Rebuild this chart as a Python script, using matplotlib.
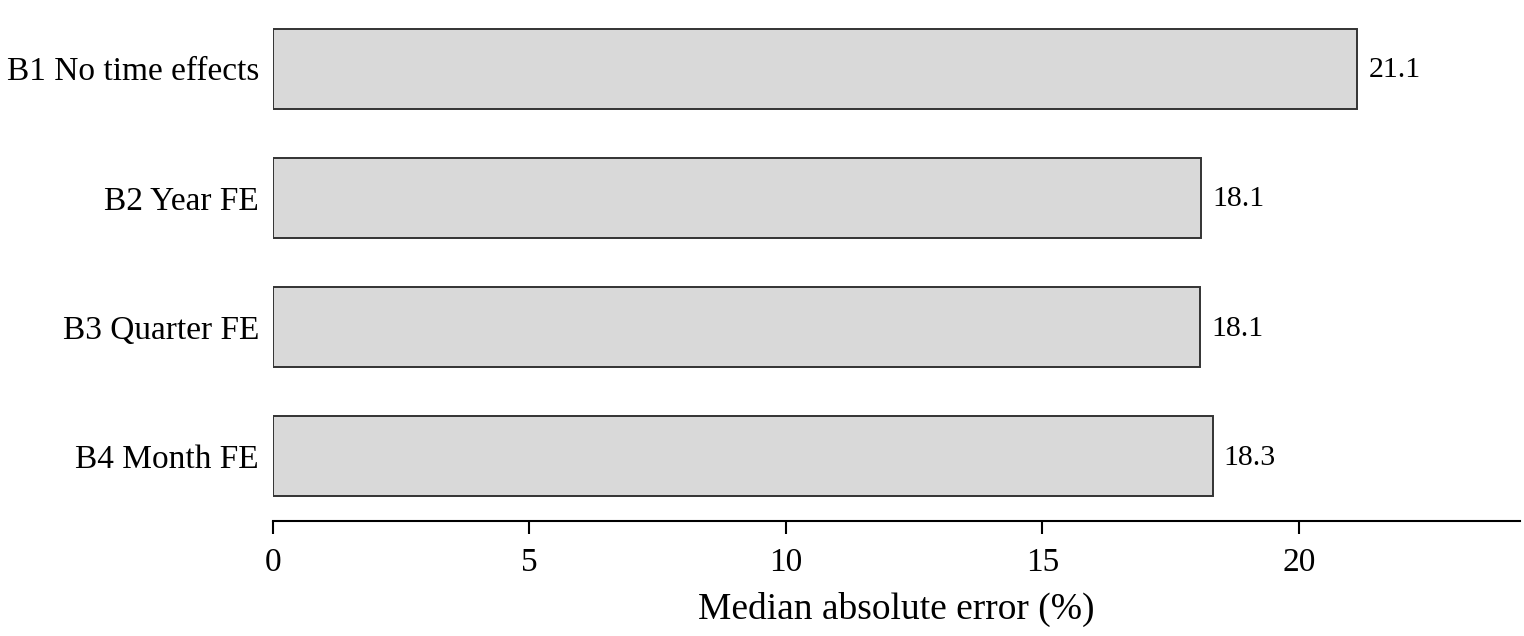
import matplotlib
matplotlib.use("Agg")
import matplotlib.pyplot as plt

categories = ["B1 No time effects", "B2 Year FE", "B3 Quarter FE", "B4 Month FE"]
values = [21.14, 18.09, 18.07, 18.32]
value_labels = ["21.1", "18.1", "18.1", "18.3"]
xticks = [0, 5, 10, 15, 20]

plt.rcParams['font.family'] = ['Liberation Serif', 'DejaVu Serif']

fig = plt.figure(figsize=(15.24, 6.36), dpi=100)
ax = fig.add_axes([273/1524, (636-521)/636, (1520-273)/1524, (521-4)/636])

y = list(range(len(categories)))
ax.barh(y, values, height=0.62, color="#d9d9d9", edgecolor="#333333", linewidth=1.4)
for yi, v, lab in zip(y, values, value_labels):
    ax.annotate(lab, xy=(v, yi), xytext=(8, -1), textcoords="offset points",
                va="center", ha="left", fontsize=21.5)

ax.set_yticks(y)
ax.set_yticklabels(categories, fontsize=24)
ax.set_ylim(3.5, -0.5)
ax.set_xlim(0, 21.14 * 1.15)
ax.set_xticks(xticks)
ax.set_xticklabels([str(t) for t in xticks], fontsize=24)
ax.tick_params(axis='y', length=0, pad=10)
ax.tick_params(axis='x', length=9, width=1.5, pad=10)
for s in ["top", "right", "left"]:
    ax.spines[s].set_visible(False)
ax.spines["bottom"].set_linewidth(1.5)
ax.set_xlabel("Median absolute error (%)", fontsize=27, labelpad=10)

fig.savefig("out.png", dpi=100)
